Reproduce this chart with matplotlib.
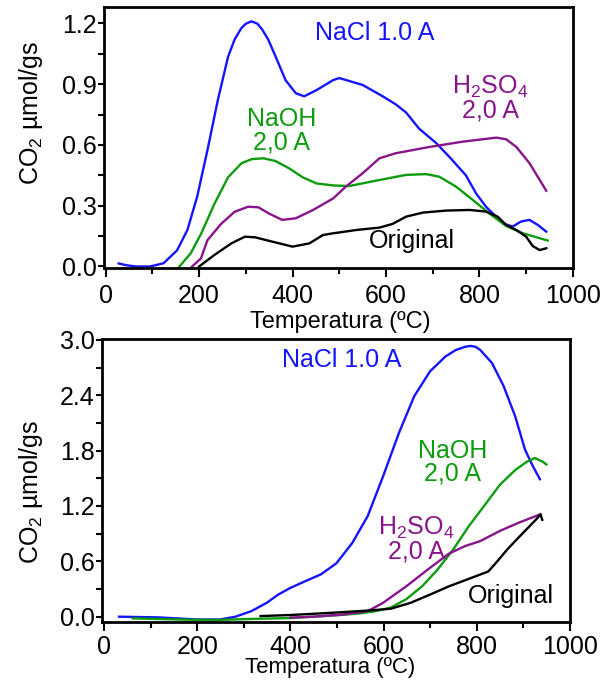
import numpy as np
import matplotlib
matplotlib.use("Agg")
import matplotlib.pyplot as plt
from matplotlib.ticker import MultipleLocator, FormatStrFormatter

plt.rcParams['font.family'] = ['Liberation Sans', 'DejaVu Sans']
plt.rcParams['mathtext.fontset'] = 'custom'
plt.rcParams['mathtext.rm'] = 'Liberation Sans'
plt.rcParams['mathtext.default'] = 'regular'

BLUE = '#1414ff'
GREEN = '#0c9c0c'
PURPLE = '#88148c'
BLACK = '#000000'

# ---- panel 1 (top) ----
nacl1_x = [28, 45, 65, 95, 124, 153, 175, 196, 218, 240, 262, 276, 290, 300, 312, 325, 335, 348, 364,
           385, 407, 425, 451, 487, 500, 550, 593, 621, 643, 671, 707, 736, 771, 793, 814, 832, 850,
           871, 889, 907, 925, 943]
nacl1_y = [0.015, 0.006, 0.0, 0.0, 0.016, 0.08, 0.18, 0.345, 0.575, 0.82, 1.035, 1.12, 1.175, 1.198,
           1.21, 1.198, 1.17, 1.12, 1.035, 0.92, 0.855, 0.84, 0.87, 0.92, 0.93, 0.896, 0.84, 0.80, 0.76,
           0.68, 0.61, 0.54, 0.45, 0.36, 0.295, 0.254, 0.213, 0.197, 0.222, 0.23, 0.205, 0.172]

naoh1_x = [158, 182, 204, 233, 262, 291, 313, 338, 364, 393, 422, 451, 487, 521, 586, 643, 686, 714,
           750, 786, 821, 857, 893, 946]
naoh1_y = [0.0, 0.065, 0.16, 0.31, 0.44, 0.51, 0.53, 0.534, 0.52, 0.484, 0.44, 0.41, 0.40, 0.397, 0.427,
           0.452, 0.456, 0.443, 0.394, 0.328, 0.262, 0.20, 0.164, 0.128]

h2so41_x = [185, 204, 218, 247, 276, 305, 327, 349, 378, 407, 444, 487, 514, 550, 586, 621, 693, 764,
            836, 857, 879, 907, 943]
h2so41_y = [0.0, 0.04, 0.13, 0.21, 0.27, 0.295, 0.292, 0.262, 0.23, 0.238, 0.279, 0.336, 0.394, 0.46,
            0.534, 0.559, 0.59, 0.616, 0.636, 0.628, 0.59, 0.51, 0.374]

orig1_x = [200, 233, 269, 298, 320, 356, 400, 436, 465, 487, 500, 536, 586, 614, 643, 679, 729, 779,
           814, 839, 857, 879, 900, 914, 929, 943]
orig1_y = [0.0, 0.057, 0.114, 0.147, 0.144, 0.123, 0.098, 0.114, 0.155, 0.164, 0.168, 0.18, 0.192,
           0.21, 0.246, 0.266, 0.276, 0.279, 0.271, 0.246, 0.205, 0.18, 0.147, 0.101, 0.081, 0.09]

# ---- panel 2 (bottom) ----
nacl2_x = [32, 115, 199, 249, 282, 316, 349, 374, 399, 432, 466, 499, 533, 566, 599, 633, 666, 700,
           733, 755, 775, 787, 798, 808, 833, 858, 883, 904, 921, 936]
nacl2_y = [0.0, -0.007, -0.03, -0.03, 0.0, 0.06, 0.15, 0.24, 0.31, 0.385, 0.46, 0.58, 0.80, 1.09, 1.52,
           1.99, 2.39, 2.66, 2.82, 2.89, 2.925, 2.935, 2.925, 2.89, 2.75, 2.50, 2.17, 1.81, 1.63, 1.49]

naoh2_x = [61, 157, 232, 349, 399, 449, 499, 549, 583, 616, 649, 683, 716, 750, 783, 816, 850, 883,
           908, 925, 942, 950]
naoh2_y = [-0.018, -0.03, -0.036, -0.02, -0.015, 0.0, 0.015, 0.036, 0.06, 0.10, 0.19, 0.33, 0.51, 0.73,
           0.98, 1.20, 1.43, 1.59, 1.68, 1.72, 1.68, 1.65]

h2so42_x = [400, 449, 516, 566, 599, 649, 700, 741, 775, 808, 850, 891, 937]
h2so42_y = [-0.01, 0.0, 0.025, 0.06, 0.15, 0.33, 0.53, 0.685, 0.765, 0.82, 0.93, 1.02, 1.11]

orig2_x = [336, 399, 491, 574, 616, 658, 700, 741, 783, 825, 841, 866, 900, 929, 937, 941]
orig2_y = [0.007, 0.018, 0.043, 0.069, 0.087, 0.15, 0.24, 0.33, 0.41, 0.49, 0.58, 0.73, 0.91, 1.06,
           1.11, 1.05]

xticks = [0, 200, 400, 600, 800, 1000]
xlabel = 'Temperatura (ºC)'
ylabel = 'CO$_2$ µmol/gs'

fig = plt.figure(figsize=(6.13, 6.81), dpi=100)
ax1 = fig.add_axes([0.170, 0.606, 0.7646, 0.3841])
ax2 = fig.add_axes([0.1669, 0.0871, 0.7625, 0.4151])


def style(ax, ymajor, yminor, xpad):
    for s in ax.spines.values():
        s.set_linewidth(2)
    ax.set_xticks(xticks)
    ax.xaxis.set_minor_locator(MultipleLocator(100))
    ax.yaxis.set_major_locator(MultipleLocator(ymajor))
    ax.yaxis.set_minor_locator(MultipleLocator(yminor))
    ax.yaxis.set_major_formatter(FormatStrFormatter('%.1f'))
    ax.tick_params(axis='x', which='major', direction='out', length=6.5, width=1.5, labelsize=18, pad=xpad)
    ax.tick_params(axis='x', which='minor', direction='out', length=4.5, width=1.5)
    ax.tick_params(axis='y', which='major', direction='out', length=4.5, width=1.5, labelsize=18, pad=1)
    ax.tick_params(axis='y', which='minor', direction='out', length=4.5, width=1.5)


lw = 1.7
ax1.plot(nacl1_x, nacl1_y, color=BLUE, lw=lw)
ax1.plot(naoh1_x, naoh1_y, color=GREEN, lw=lw)
ax1.plot(h2so41_x, h2so41_y, color=PURPLE, lw=lw)
ax1.plot(orig1_x, orig1_y, color=BLACK, lw=lw)
style(ax1, 0.3, 0.15, 5)
ax1.set_xlim(-3, 1000)
ax1.set_ylim(-0.009, 1.282)
ax1.set_xlabel(xlabel, fontsize=17)
ax1.xaxis.set_label_coords(0.503, -0.165)
ax1.set_ylabel(ylabel, fontsize=18)
ax1.yaxis.set_label_coords(-0.127, 0.595)

ax1.text(576, 1.15, 'NaCl 1.0 A', color=BLUE, fontsize=18, ha='center', va='center')
ax1.text(377, 0.67, 'NaOH\n2,0 A', color=GREEN, fontsize=18, ha='center', va='center',
         linespacing=0.95)
ax1.text(823, 0.83, 'H$_2$SO$_4$\n2,0 A', color=PURPLE, fontsize=18, ha='center', va='center',
         linespacing=0.95)
ax1.text(656, 0.127, 'Original', color=BLACK, fontsize=18, ha='center', va='center')

ax2.plot(nacl2_x, nacl2_y, color=BLUE, lw=lw)
ax2.plot(naoh2_x, naoh2_y, color=GREEN, lw=lw)
ax2.plot(h2so42_x, h2so42_y, color=PURPLE, lw=lw)
ax2.plot(orig2_x, orig2_y, color=BLACK, lw=lw)
style(ax2, 0.6, 0.3, 3)
ax2.set_xlim(-4, 1000)
ax2.set_ylim(-0.054, 3.01)
ax2.set_xlabel(xlabel, fontsize=16)
ax2.xaxis.set_label_coords(0.487, -0.125)
ax2.set_ylabel(ylabel, fontsize=18)
ax2.yaxis.set_label_coords(-0.123, 0.459)

ax2.text(510, 2.78, 'NaCl 1.0 A', color=BLUE, fontsize=18, ha='center', va='center')
ax2.text(748, 1.675, 'NaOH\n2,0 A', color=GREEN, fontsize=18, ha='center', va='center',
         linespacing=0.95)
ax2.text(670, 0.84, 'H$_2$SO$_4$\n2,0 A', color=PURPLE, fontsize=18, ha='center', va='center',
         linespacing=0.95)
ax2.text(873, 0.224, 'Original', color=BLACK, fontsize=18, ha='center', va='center')

fig.savefig('out.png', dpi=100)
